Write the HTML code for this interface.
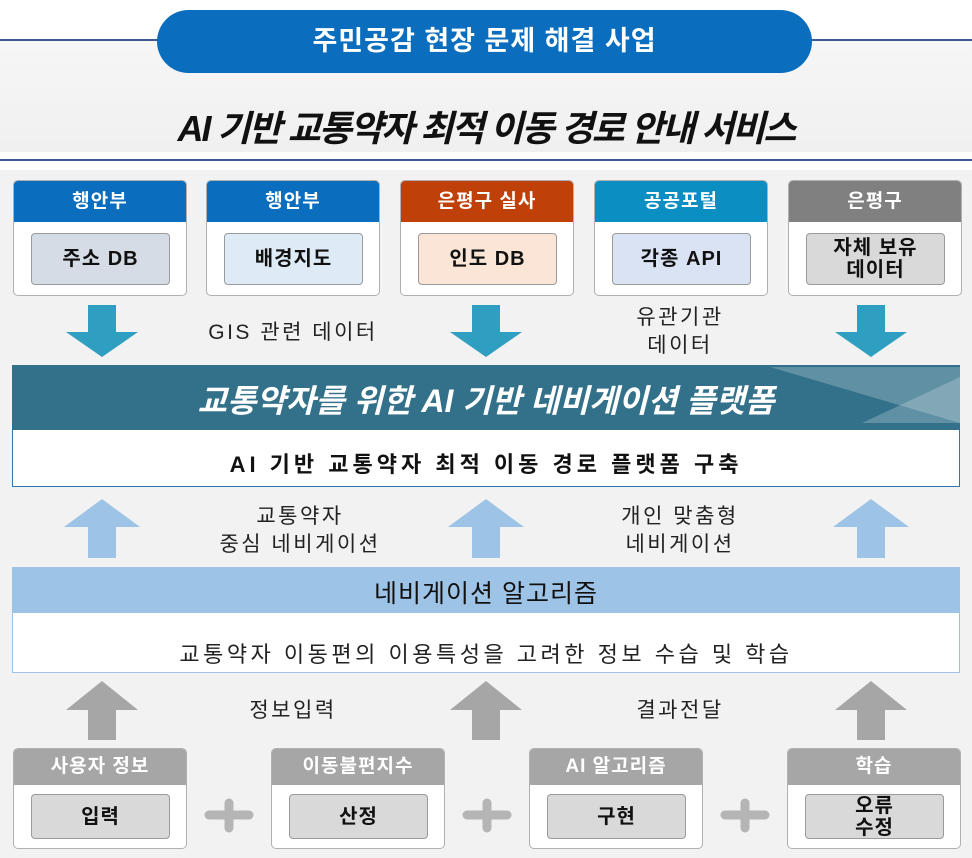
<!DOCTYPE html>
<html><head><meta charset="utf-8"><style>
*{margin:0;padding:0;box-sizing:border-box}
body{width:972px;height:858px;position:relative;background:#fff;font-family:"Liberation Sans","Noto Sans CJK KR",sans-serif;overflow:hidden}
.a{position:absolute}
.t{position:absolute;text-align:center;white-space:nowrap}
.box{position:absolute;background:#fff;border:1px solid #b0b0b0;border-radius:5px;overflow:hidden}
.hd{position:absolute;left:0;right:0;top:0;color:#fff;font-weight:bold;text-align:center;letter-spacing:1px}
.in{position:absolute;border:1px solid #9a9a9a;border-radius:4px;font-weight:bold;display:flex;align-items:center;justify-content:center;text-align:center;color:#111;line-height:1.1;letter-spacing:1px}
.lb{font-size:21px;color:#222;letter-spacing:2.5px;line-height:28px}
</style></head><body>
<div class="a" style="left:0;top:40px;width:972px;height:112px;background:linear-gradient(#f6f6f6,#f0f0f0)"></div>
<div class="a" style="left:0;top:39px;width:972px;height:2px;background:#3a5a96"></div>
<div class="a" style="left:157px;top:10px;width:655px;height:63px;background:#0a6dbd;border-radius:32px;color:#fff;font-size:27px;font-weight:bold;text-align:center;line-height:63px;letter-spacing:1px">주민공감 현장 문제 해결 사업</div>
<div class="t" style="left:0;width:972px;top:100px;font-size:36px;font-style:italic;font-weight:bold;letter-spacing:-2px;color:#111">AI 기반 교통약자 최적 이동 경로 안내 서비스</div>
<div class="a" style="left:0;top:159px;width:972px;height:2px;background:#3a5a96"></div>
<div class="a" style="left:0;top:170px;width:972px;height:688px;background:#f2f2f2"></div>

<div class="box" style="left:13px;top:180px;width:174px;height:116px"><div class="hd" style="height:41px;line-height:41px;font-size:19px;background:#0a6dbd">행안부</div><div class="in" style="left:17px;top:52px;width:139px;height:52px;background:#d6dce5;font-size:20px">주소 DB</div></div>
<div class="box" style="left:206px;top:180px;width:174px;height:116px"><div class="hd" style="height:41px;line-height:41px;font-size:19px;background:#0a6dbd">행안부</div><div class="in" style="left:17px;top:52px;width:139px;height:52px;background:#deebf7;font-size:20px">배경지도</div></div>
<div class="box" style="left:400px;top:180px;width:174px;height:116px"><div class="hd" style="height:41px;line-height:41px;font-size:19px;background:#c0400a">은평구 실사</div><div class="in" style="left:17px;top:52px;width:139px;height:52px;background:#fbe5d6;font-size:20px">인도 DB</div></div>
<div class="box" style="left:594px;top:180px;width:174px;height:116px"><div class="hd" style="height:41px;line-height:41px;font-size:19px;background:#0b8fc2">공공포털</div><div class="in" style="left:17px;top:52px;width:139px;height:52px;background:#dae3f3;font-size:20px">각종 API</div></div>
<div class="box" style="left:788px;top:180px;width:174px;height:116px"><div class="hd" style="height:41px;line-height:41px;font-size:19px;background:#808080">은평구</div><div class="in" style="left:17px;top:52px;width:139px;height:52px;background:#d9d9d9;font-size:20px">자체 보유<br>데이터</div></div>

<svg class="a" style="left:0;top:0" width="972" height="858">
<g fill="#2e9fc0">
<polygon points="88,305 116,305 116,332 138,332 102,357 66,332 88,332"/>
<polygon points="472,305 500,305 500,332 522,332 486,357 450,332 472,332"/>
<polygon points="857,305 885,305 885,332 907,332 871,357 835,332 857,332"/>
</g>
<g fill="#9dc3e6">
<polygon points="88,558 116,558 116,527 140,527 102,499 64,527 88,527"/>
<polygon points="472,558 500,558 500,527 524,527 486,499 448,527 472,527"/>
<polygon points="857,558 885,558 885,527 909,527 871,499 833,527 857,527"/>
</g>
<g fill="#a6a6a6">
<polygon points="88,740 116,740 116,710 138,710 102,681 66,710 88,710"/>
<polygon points="472,740 500,740 500,710 522,710 486,681 450,710 472,710"/>
<polygon points="857,740 885,740 885,710 907,710 871,681 835,710 857,710"/>
</g>
</svg>

<div class="t lb" style="left:183px;width:220px;top:319px">GIS 관련 데이터</div>
<div class="t lb" style="left:570px;width:220px;top:304px">유관기관<br>데이터</div>

<div class="a" style="left:12px;top:365px;width:948px;height:65px;background:#33718a;overflow:hidden">
<svg class="a" style="left:0;top:0" width="948" height="65"><polygon points="758,2 948,2 948,58" fill="#fff" fill-opacity="0.22"/><polygon points="850,58 948,12 948,58" fill="#fff" fill-opacity="0.22"/></svg>
</div>
<div class="t" style="left:12px;width:948px;top:376px;font-size:32px;font-weight:bold;font-style:italic;color:#fff;letter-spacing:0px">교통약자를 위한 AI 기반 네비게이션 플랫폼</div>
<div class="a" style="left:12px;top:430px;width:948px;height:57px;background:#fff;border:1px solid #2e75b6;border-top:none"></div>
<div class="t" style="left:12px;width:948px;top:447px;font-size:22px;font-weight:bold;color:#111;letter-spacing:4px">AI 기반 교통약자 최적 이동 경로 플랫폼 구축</div>

<div class="t lb" style="left:190px;width:220px;top:503px">교통약자<br>중심 네비게이션</div>
<div class="t lb" style="left:570px;width:220px;top:503px">개인 맞춤형<br>네비게이션</div>

<div class="a" style="left:12px;top:567px;width:948px;height:46px;background:#9dc3e6"></div>
<div class="t" style="left:12px;width:948px;top:574px;font-size:25px;color:#111;letter-spacing:1px">네비게이션 알고리즘</div>
<div class="a" style="left:12px;top:613px;width:948px;height:60px;background:#fff;border:1px solid #9dc3e6;border-top:none"></div>
<div class="t" style="left:12px;width:948px;top:637px;font-size:22px;color:#222;letter-spacing:3.5px">교통약자 이동편의 이용특성을 고려한 정보 수습 및 학습</div>

<div class="t lb" style="left:183px;width:220px;top:697px">정보입력</div>
<div class="t lb" style="left:570px;width:220px;top:697px">결과전달</div>

<div class="box" style="left:13px;top:748px;width:174px;height:101px"><div class="hd" style="height:36px;line-height:36px;font-size:19px;background:#a6a6a6">사용자 정보</div><div class="in" style="left:17px;top:45px;width:139px;height:45px;background:#d9d9d9;font-size:20px">입력</div></div>
<div class="box" style="left:271px;top:748px;width:174px;height:101px"><div class="hd" style="height:36px;line-height:36px;font-size:19px;background:#a6a6a6">이동불편지수</div><div class="in" style="left:17px;top:45px;width:139px;height:45px;background:#d9d9d9;font-size:20px">산정</div></div>
<div class="box" style="left:529px;top:748px;width:174px;height:101px"><div class="hd" style="height:36px;line-height:36px;font-size:19px;background:#a6a6a6">AI 알고리즘</div><div class="in" style="left:17px;top:45px;width:139px;height:45px;background:#d9d9d9;font-size:20px">구현</div></div>
<div class="box" style="left:787px;top:748px;width:174px;height:101px"><div class="hd" style="height:36px;line-height:36px;font-size:19px;background:#a6a6a6">학습</div><div class="in" style="left:17px;top:45px;width:139px;height:45px;background:#d9d9d9;font-size:20px">오류<br>수정</div></div>

<svg class="a" style="left:0;top:0" width="972" height="858">
<g stroke="#a6a6a6" stroke-width="9" stroke-linecap="round" opacity="0.8">
<line x1="209" y1="815" x2="249" y2="815"/><line x1="229" y1="803" x2="229" y2="828"/>
<line x1="467" y1="815" x2="507" y2="815"/><line x1="487" y1="803" x2="487" y2="828"/>
<line x1="725" y1="815" x2="765" y2="815"/><line x1="745" y1="803" x2="745" y2="828"/>
</g>
</svg>
</body></html>
